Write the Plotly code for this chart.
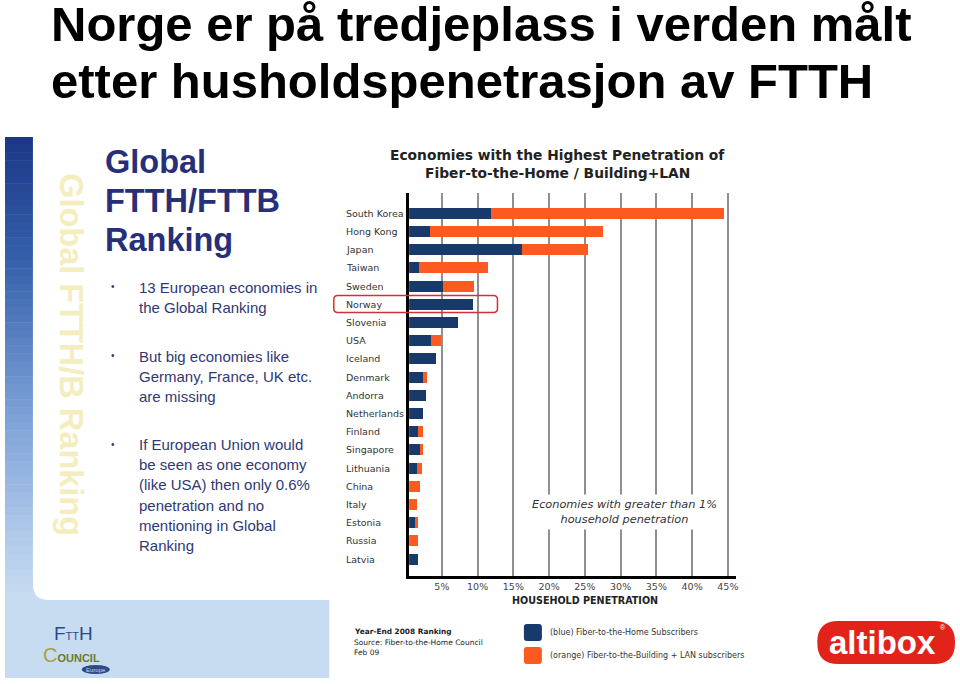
import plotly.graph_objects as go

W, H = 960, 684

# ---------------- data ----------------
countries = ["South Korea", "Hong Kong", "Japan", "Taiwan", "Sweden", "Norway",
             "Slovenia", "USA", "Iceland", "Denmark", "Andorra", "Netherlands",
             "Finland", "Singapore", "Lithuania", "China", "Italy", "Estonia",
             "Russia", "Latvia"]
ftth_pct = [11.8, 3.4, 16.2, 1.8, 5.2, 9.4, 7.3, 3.5, 4.2, 2.4, 2.75, 2.4,
            1.6, 2.0, 1.5, 0.0, 0.3, 1.25, 0.0, 1.6]
fttb_lan_pct = [32.7, 24.2, 9.3, 9.6, 4.3, 0.0, 0.0, 1.4, 0.0, 0.5, 0.0, 0.0,
                0.8, 0.4, 0.7, 1.9, 1.2, 0.45, 1.6, 0.0]
x_ticks = [5, 10, 15, 20, 25, 30, 35, 40, 45]

title_lines = ["Norge er på tredjeplass i verden målt",
               "etter husholdspenetrasjon av FTTH"]
panel_title = ["Global", "FTTH/FTTB", "Ranking"]
bullets = [
    ["13 European economies in", "the Global Ranking"],
    ["But big economies like", "Germany, France, UK etc.", "are missing"],
    ["If European Union would", "be seen as one economy",
     "(like USA) then only 0.6%", "penetration and no",
     "mentioning in Global", "Ranking"],
]
chart_title = ["Economies with the Highest Penetration of",
               "Fiber-to-the-Home / Building+LAN"]
legend_labels = ["(blue) Fiber-to-the-Home Subscribers",
                 "(orange) Fiber-to-the-Building + LAN subscribers"]
source_lines = ["Year-End 2008 Ranking", "Source: Fiber-to-the-Home Council", "Feb 09"]

BLUE = "#183a6b"
ORANGE = "#fd5a22"
NAVY = "#272f79"
BTXT = "#2f3875"
VERD = "DejaVu Sans"
ARIAL = "Liberation Sans"


def px(x):
    return x / W


def py(y):
    return 1 - y / H


def rrect(x0, y0, x1, y1, r, corners=(1, 1, 1, 1)):
    # corners: tl, tr, br, bl ; pixel coords -> paper path
    tl, tr, br, bl = [r * c for c in corners]
    p = f"M {px(x0 + tl)} {py(y0)} L {px(x1 - tr)} {py(y0)} "
    if tr:
        p += f"Q {px(x1)} {py(y0)} {px(x1)} {py(y0 + tr)} "
    p += f"L {px(x1)} {py(y1 - br)} "
    if br:
        p += f"Q {px(x1)} {py(y1)} {px(x1 - br)} {py(y1)} "
    p += f"L {px(x0 + bl)} {py(y1)} "
    if bl:
        p += f"Q {px(x0)} {py(y1)} {px(x0)} {py(y1 - bl)} "
    p += f"L {px(x0)} {py(y0 + tl)} "
    if tl:
        p += f"Q {px(x0)} {py(y0)} {px(x0 + tl)} {py(y0)} "
    p += "Z"
    return p


fig = go.Figure()
fig.add_trace(go.Bar(y=countries, x=ftth_pct, orientation="h",
                     marker=dict(color=BLUE, line=dict(width=0)),
                     name="Fiber-to-the-Home"))
fig.add_trace(go.Bar(y=countries, x=fttb_lan_pct, orientation="h",
                     marker=dict(color=ORANGE, line=dict(width=0)),
                     name="Fiber-to-the-Building + LAN"))

shapes = []
annotations = []

# ---- slide background decorations ----
shapes.append(dict(type="rect", xref="paper", yref="paper", x0=px(5), x1=px(330),
                   y0=py(678), y1=py(560), fillcolor="#c8dcf1", line=dict(width=0),
                   layer="below"))


def lerp(c1, c2, t):
    a = [int(c1[i:i + 2], 16) for i in (1, 3, 5)]
    b = [int(c2[i:i + 2], 16) for i in (1, 3, 5)]
    return "#" + "".join(f"{round(a[k] + (b[k] - a[k]) * t):02x}" for k in range(3))


stops = [(137, "#1b3786"), (260, "#3561ab"), (420, "#7fa3d8"), (560, "#b9d1ee"), (600, "#c8dcf1")]
n = 60
for i in range(n):
    y0 = 137 + (600 - 137) * i / n
    y1 = 137 + (600 - 137) * (i + 1) / n
    ym = (y0 + y1) / 2
    for (a, ca), (b, cb) in zip(stops[:-1], stops[1:]):
        if a <= ym <= b:
            col = lerp(ca, cb, (ym - a) / (b - a))
            break
    shapes.append(dict(type="rect", xref="paper", yref="paper", x0=px(5), x1=px(34),
                       y0=py(y1 + 0.5), y1=py(y0), fillcolor=col, line=dict(width=0),
                       layer="below"))

# white panel with rounded bottom-left corner
shapes.append(dict(type="path", xref="paper", yref="paper",
                   path=rrect(33, 137, 345, 600, 16, corners=(0, 0, 0, 1)),
                   fillcolor="white", line=dict(width=0), layer="below"))

# vertical pale watermark text
annotations.append(dict(text="<b>Global FTTH/B Ranking</b>", xref="paper", yref="paper",
                        x=px(71), y=py(355), textangle=90, showarrow=False,
                        font=dict(family=ARIAL, size=32.5, color="#f4eebf"),
                        xanchor="center", yanchor="middle"))

# main slide title
for i, t in enumerate(title_lines):
    annotations.append(dict(text=f"<b>{t}</b>", xref="paper", yref="paper",
                            x=px(49), y=py(24 + 57 * i), xanchor="left", yanchor="middle",
                            showarrow=False, font=dict(family=ARIAL, size=49, color="black")))

# panel title
for i, t in enumerate(panel_title):
    annotations.append(dict(text=f"<b>{t}</b>", xref="paper", yref="paper",
                            x=px(103), y=py(162 + 39 * i), xanchor="left", yanchor="middle",
                            showarrow=False, font=dict(family=ARIAL, size=32.5, color=NAVY)))

# bullets
bullet_base = [293, 361.5, 450]
for b, lines in enumerate(bullets):
    annotations.append(dict(text="•", xref="paper", yref="paper",
                            x=px(113), y=py(bullet_base[b] - 6), xanchor="center",
                            yanchor="middle", showarrow=False,
                            font=dict(family=ARIAL, size=10, color=BTXT)))
    for j, t in enumerate(lines):
        annotations.append(dict(text=t, xref="paper", yref="paper",
                                x=px(137), y=py(bullet_base[b] + 20.2 * j - 5.5),
                                xanchor="left", yanchor="middle", showarrow=False,
                                font=dict(family=ARIAL, size=15, color=BTXT)))

# chart title
for i, t in enumerate(chart_title):
    annotations.append(dict(text=f"<b>{t}</b>", xref="paper", yref="paper",
                            x=px(558.5), y=py(155 + 17.5 * i), xanchor="center", yanchor="middle",
                            showarrow=False, font=dict(family=VERD, size=13.8, color="#222")))

# category labels (left aligned)
for c in countries:
    annotations.append(dict(text=c, xref="paper", yref="y", x=px(345), y=c,
                            xanchor="left", yanchor="middle", showarrow=False,
                            font=dict(family=VERD, size=9.5, color="#333")))

# axis title
annotations.append(dict(text="<b>HOUSEHOLD PENETRATION</b>", xref="paper", yref="paper",
                        x=px(586), y=py(600), xanchor="center", yanchor="middle",
                        showarrow=False, font=dict(family=VERD, size=9.6, color="#222")))

# in-chart note
annotations.append(dict(text="<i>Economies with greater than 1%</i><br><i>household penetration</i>",
                        xref="paper", yref="paper", x=px(626), y=py(512),
                        xanchor="center", yanchor="middle", showarrow=False, bgcolor="white",
                        borderpad=3, font=dict(family=VERD, size=11.3, color="#333")))

# Norway highlight
shapes.append(dict(type="path", xref="paper", yref="paper",
                   path=rrect(334.5, 295.5, 498.5, 312.5, 4),
                   line=dict(color="#d0303a", width=1.5), fillcolor="rgba(0,0,0,0)"))

# source text
src_y = [631, 642, 652]
src_size = [7.4, 7.5, 7.5]
for i, t in enumerate(source_lines):
    annotations.append(dict(text=(f"<b>{t}</b>" if i == 0 else t), xref="paper", yref="paper",
                            x=px(353), y=py(src_y[i]), xanchor="left", yanchor="middle",
                            showarrow=False,
                            font=dict(family=VERD, size=src_size[i], color="#222")))

# legend swatches + labels
for i, (lab, col) in enumerate(zip(legend_labels, [BLUE, ORANGE])):
    y0 = 624 + 23 * i
    shapes.append(dict(type="path", xref="paper", yref="paper",
                       path=rrect(525, y0, 543, y0 + 17, 3), fillcolor=col, line=dict(width=0)))
    annotations.append(dict(text=lab, xref="paper", yref="paper", x=px(549), y=py(y0 + 8.5),
                            xanchor="left", yanchor="middle", showarrow=False,
                            font=dict(family=VERD, size=8, color="#333")))

# altibox logo
shapes.append(dict(type="path", xref="paper", yref="paper",
                   path=rrect(819, 621, 957, 664, 21), fillcolor="#e2231a", line=dict(width=0)))
annotations.append(dict(text="<b>altibox</b>", xref="paper", yref="paper", x=px(884), y=py(642),
                        xanchor="center", yanchor="middle", showarrow=False,
                        font=dict(family=ARIAL, size=33, color="white")))
annotations.append(dict(text="®", xref="paper", yref="paper", x=px(945), y=py(627),
                        xanchor="center", yanchor="middle", showarrow=False,
                        font=dict(family=ARIAL, size=7, color="white")))

# FTTH council logo (approximation)
annotations.append(dict(text="F<span style='font-size:11px'>TT</span>H", xref="paper", yref="paper",
                        x=px(74), y=py(633), xanchor="center", yanchor="middle", showarrow=False,
                        font=dict(family=ARIAL, size=19, color="#2b4a8a")))
annotations.append(dict(text="<span style='font-size:20px;color:#a9a040'>C</span><b>OUNCIL</b>",
                        xref="paper", yref="paper",
                        x=px(72), y=py(655), xanchor="center", yanchor="middle", showarrow=False,
                        font=dict(family=ARIAL, size=11, color="#6f7a2a")))
shapes.append(dict(type="circle", xref="paper", yref="paper", x0=px(82), x1=px(110),
                   y0=py(674), y1=py(665), fillcolor="#2d4a84", line=dict(width=0)))
annotations.append(dict(text="Europe", xref="paper", yref="paper", x=px(96), y=py(669.5),
                        xanchor="center", yanchor="middle", showarrow=False,
                        font=dict(family=ARIAL, size=6, color="#c8d4ea")))

fig.update_layout(
    width=W, height=H,
    margin=dict(l=0, r=0, t=0, b=0),
    paper_bgcolor="white", plot_bgcolor="white",
    barmode="stack", bargap=0.4, showlegend=False,
    shapes=shapes, annotations=annotations,
    xaxis=dict(domain=[px(410), px(738)], range=[0.42, 46.2],
               tickvals=x_ticks, ticktext=[f"{v}%" for v in x_ticks],
               showgrid=True, gridcolor="#8f8f8f", gridwidth=2, zeroline=False,
               showline=True, linecolor="black", linewidth=3, ticks="",
               tickfont=dict(family=VERD, size=9.5, color="#444")),
    yaxis=dict(domain=[py(576), py(193)], categoryorder="array", categoryarray=countries,
               range=[19.93, -1.115], showticklabels=False, showgrid=False, zeroline=False,
               showline=True, linecolor="black", linewidth=3, ticks=""),
)

fig.write_html("out.html")
